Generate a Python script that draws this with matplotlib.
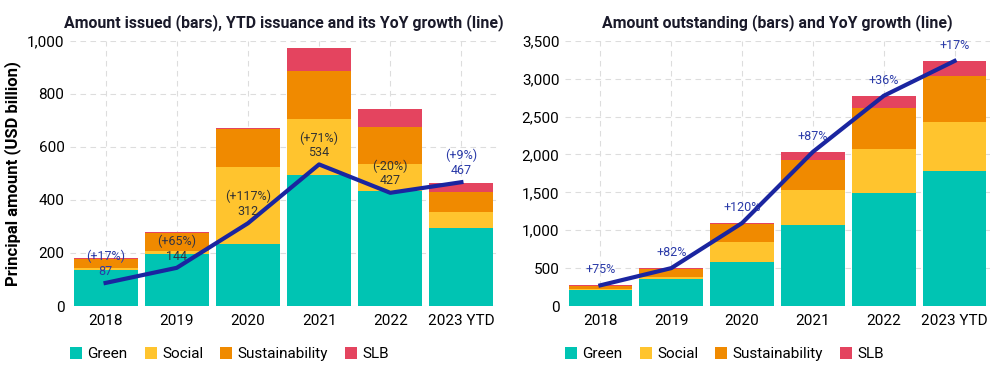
import numpy as np
import matplotlib.pyplot as plt

plt.rcParams['font.family'] = ['Roboto', 'DejaVu Sans']

years = ['2018', '2019', '2020', '2021', '2022', '2023 YTD']
series = ['Green', 'Social', 'Sustainability', 'SLB']
colors = ['#00c4b3', '#ffc42e', '#f08a00', '#e4445f']
line_col = '#1a25a0'

# amount issued (USD bn)
iss_green = [135, 198, 235, 495, 432, 295]
iss_social = [10, 10, 290, 210, 105, 60]
iss_sust = [33, 67, 143, 180, 140, 75]
iss_slb = [3, 5, 5, 90, 67, 35]
ytd = [87, 144, 312, 534, 427, 467]
ytd_growth = ['(+17%)', '(+65%)', '(+117%)', '(+71%)', '(-20%)', '(+9%)']
ytd_lab_col = ['#2a3aa8', '#333344', '#333333', '#333333', '#333333', '#2a3aa8']

# amount outstanding (USD bn)
out_green = [215, 360, 585, 1065, 1495, 1785]
out_social = [15, 25, 260, 470, 580, 645]
out_sust = [40, 105, 240, 395, 540, 610]
out_slb = [3, 10, 10, 105, 160, 195]
out_growth = ['+75%', '+82%', '+120%', '+87%', '+36%', '+17%']

fig = plt.figure(figsize=(10, 3.75), dpi=100)
ax1 = fig.add_axes([0.07, 0.184, 0.427, 0.707])
ax2 = fig.add_axes([0.565, 0.184, 0.425, 0.707])

x = np.arange(len(years))


def draw(ax, stacks, ymax, step, fmt):
    bottom = np.zeros(len(years))
    for vals, name, c in zip(stacks, series, colors):
        ax.bar(x, vals, 0.9, bottom=bottom, color=c, label=name, zorder=2)
        bottom += np.array(vals)
    ax.set_xlim(-0.5, 5.5)
    ax.set_ylim(0, ymax)
    ax.set_xticks(x)
    ax.set_xticklabels(years, fontsize=11)
    yt = np.arange(0, ymax + 1, step)
    ax.set_yticks(yt)
    ax.set_yticklabels([fmt.format(v) for v in yt], fontsize=11)
    ax.tick_params(axis='x', length=0, pad=6)
    ax.tick_params(axis='y', length=0, pad=4)
    for s in ax.spines.values():
        s.set_visible(False)
    ax.grid(True, color='#dddddd', linestyle=(0, (5, 4)), linewidth=0.8, zorder=0)
    ax.set_axisbelow(True)
    ax.legend(loc='upper left', bbox_to_anchor=(0.0, -0.155), ncol=4, frameon=False,
              borderpad=0, borderaxespad=0,
              handlelength=0.8, handleheight=0.8, handletextpad=0.35, columnspacing=1.1,
              fontsize=11)
    return bottom


draw(ax1, [iss_green, iss_social, iss_sust, iss_slb], 1000, 200, '{:,}')
ax1.plot(x, ytd, color=line_col, lw=3, zorder=3)
for i in range(len(years)):
    ax1.text(x[i], ytd[i] + 20, str(ytd[i]), ha='center', va='bottom', fontsize=9,
             color=ytd_lab_col[i], zorder=4)
    ax1.text(x[i], ytd[i] + 75, ytd_growth[i], ha='center', va='bottom', fontsize=9,
             color=ytd_lab_col[i], zorder=4)
ax1.set_title('Amount issued (bars), YTD issuance and its YoY growth (line)',
              fontsize=11.4, fontweight='bold', color='#1a1a2a', pad=10)
ax1.set_ylabel('Principal amount (USD billion)', fontsize=12, fontweight='bold', labelpad=4)

tot = draw(ax2, [out_green, out_social, out_sust, out_slb], 3500, 500, '{:,}')
ax2.plot(x, tot, color=line_col, lw=3, zorder=3)
for i in range(len(years)):
    ax2.text(x[i], tot[i] + 120, out_growth[i], ha='center', va='bottom', fontsize=9,
             color='#2a3aa8', zorder=4)
ax2.set_title('Amount outstanding (bars) and YoY growth (line)',
              fontsize=11.4, fontweight='bold', color='#1a1a2a', pad=10)

fig.savefig('out.png', dpi=100)
